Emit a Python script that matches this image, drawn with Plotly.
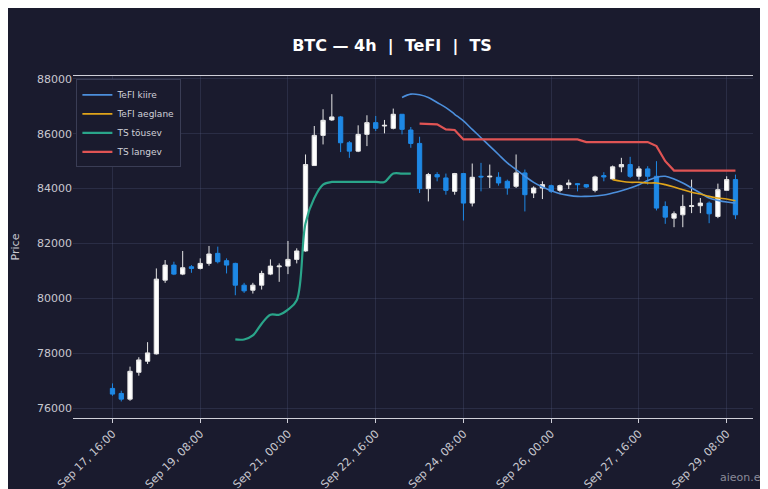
import pandas as pd
import plotly.graph_objects as go

# 4h candles starting Sep 17 16:00
times = pd.date_range("2025-09-17 16:00", periods=72, freq="4h")

opens = [76727, 76544, 76337, 77313, 77716, 77984, 80668, 81217, 80888, 81156,
         81095, 81278, 81644, 81376, 81278, 80485, 80302, 80485, 80888, 81156,
         81180, 81424, 81730, 84840, 85938, 86500, 86610, 85670, 85365, 85975,
         86402, 86280, 86195, 86707, 86134, 85646, 83999, 84511, 84389, 83901,
         84548, 83474, 84450, 84426, 84413, 84267, 84084, 84572, 83840, 84023,
         84108, 83938, 84145, 84182, 84145, 83938, 84474, 84353, 84792, 84877,
         84450, 84719, 84450, 83352, 82925, 83047, 83352, 83377, 83474, 82986,
         83938, 84328]
highs = [76910, 76642, 77520, 77862, 78411, 81095, 81400, 81339, 81730, 81217,
         81461, 81912, 81888, 81461, 81302, 80570, 80570, 81010, 81424, 81278,
         82095, 81827, 85243, 86280, 86890, 87439, 86646, 85731, 86304, 86670,
         86646, 86500, 86914, 86707, 86243, 85890, 84572, 84597, 84548, 84572,
         84572, 84914, 84938, 84877, 84597, 84328, 85243, 84694, 84084, 84267,
         84145, 84145, 84328, 84206, 84169, 84474, 84597, 84840, 85121, 85158,
         84816, 84816, 85000, 83535, 83169, 83779, 84328, 83657, 83535, 84182,
         84450, 84511]
lows = [76459, 76252, 76276, 77191, 77618, 77960, 80570, 80851, 80851, 80936,
        81058, 81193, 81278, 80912, 80119, 80204, 80180, 80326, 80851, 80607,
        80888, 81278, 81705, 84840, 85609, 86463, 85329, 85121, 85329, 85548,
        86097, 86012, 86158, 85975, 85487, 83840, 83535, 84267, 83779, 83779,
        82840, 83352, 83901, 84023, 84108, 83779, 84023, 83169, 83657, 83620,
        83840, 83865, 83987, 83901, 84023, 83865, 84267, 84328, 84597, 84389,
        84328, 84145, 83206, 82718, 82596, 82596, 83108, 83108, 82742, 82925,
        83938, 82889]
closes = [76520, 76337, 77350, 77764, 78020, 80705, 81217, 80888, 81120, 81095,
          81278, 81620, 81339, 81217, 80485, 80278, 80485, 80912, 81180, 81180,
          81424, 81730, 84877, 85938, 86487, 86610, 85670, 85365, 85975, 86402,
          86195, 86304, 86707, 86158, 85646, 83999, 84511, 84426, 83938, 84548,
          83474, 84413, 84426, 84450, 84206, 84023, 84572, 83779, 84023, 84145,
          83901, 84108, 84206, 84145, 84060, 84426, 84426, 84792, 84877, 84450,
          84719, 84450, 83291, 82962, 83084, 83352, 83377, 83474, 83084, 83962,
          84328, 83047]

# indicator lines (start index, values)
fast_start = 33
tefi_fast = [87317, 87439, 87415, 87317, 87134, 86951, 86707, 86463, 86158, 85853,
             85548, 85243, 84938, 84694, 84450, 84230, 84060, 83925, 83816, 83755,
             83718, 83718, 83730, 83767, 83840, 83925, 84023, 84145, 84292, 84414,
             84450, 84352, 84206, 84023, 83840, 83657, 83572, 83511, 83474]
slow_start = 57
tefi_slow = [84328, 84267, 84230, 84230, 84206, 84206, 84145, 84060, 83962, 83865,
             83804, 83718, 83657, 83620, 83559]
up_start = 14
ts_up = [78509, 78509, 78655, 79082, 79411, 79411, 79594, 79936, 82742, 83657,
         84145, 84243, 84243, 84243, 84243, 84243, 84243, 84243, 84548, 84548,
         84548]
down_start = 35
ts_down = [86365, 86365, 86341, 86158, 86134, 85792, 85792, 85792, 85792, 85792,
           85792, 85792, 85792, 85792, 85792, 85792, 85792, 85792, 85792, 85694,
           85694, 85694, 85694, 85694, 85694, 85694, 85694, 85548, 84999, 84657,
           84657, 84657, 84657, 84657, 84657, 84657, 84657]

fig = go.Figure()

fig.add_trace(go.Candlestick(
    x=times, open=opens, high=highs, low=lows, close=closes,
    increasing=dict(line=dict(color="#e6e6e6", width=1), fillcolor="#ffffff"),
    decreasing=dict(line=dict(color="#1e88e5", width=1), fillcolor="#1e88e5"),
    whiskerwidth=0, showlegend=False, name="BTC"))

fig.add_trace(go.Scatter(x=times[fast_start:fast_start + len(tefi_fast)], y=tefi_fast,
                         mode="lines", name="TeFI kiire",
                         line=dict(color="#4c8fdc", width=1.6, shape="spline")))
fig.add_trace(go.Scatter(x=times[slow_start:slow_start + len(tefi_slow)], y=tefi_slow,
                         mode="lines", name="TeFI aeglane",
                         line=dict(color="#e0a41a", width=1.6, shape="spline")))
fig.add_trace(go.Scatter(x=times[up_start:up_start + len(ts_up)], y=ts_up,
                         mode="lines", name="TS tõusev",
                         line=dict(color="#2aa58a", width=2.2, shape="spline")))
fig.add_trace(go.Scatter(x=times[down_start:down_start + len(ts_down)], y=ts_down,
                         mode="lines", name="TS langev",
                         line=dict(color="#e05454", width=2.2)))

grid = "rgba(90,100,140,0.25)"
fig.update_layout(
    width=768, height=489,
    paper_bgcolor="#1a1b2e", plot_bgcolor="#1a1b2e",
    font=dict(family="DejaVu Sans", color="#c8c8d0", size=11),
    title=dict(text="<b>BTC — 4h  |  TeFI  |  TS</b>", x=0.5, y=0.935,
               font=dict(size=16, color="#ffffff")),
    margin=dict(l=65, r=23, t=68, b=79),
    legend=dict(x=0.005, y=0.99, bgcolor="#1a1b2e", bordercolor="#3a3d55",
                borderwidth=1, font=dict(size=9, color="#d0d0d8")),
    xaxis=dict(rangeslider=dict(visible=False), showgrid=True, gridcolor=grid,
               tickformat="%b %d, %H:%M", tick0="2025-09-17 16:00",
               dtick=40 * 3600 * 1000, tickangle=-45, automargin=False,
               range=["2025-09-16 22:00", "2025-09-29 20:00"],
               showline=True, linecolor="#cfcfd8", mirror=True, ticks="outside",
               ticklen=4, tickcolor="#cfcfd8", zeroline=False),
    yaxis=dict(title=dict(text="Price", font=dict(size=11)), showgrid=True,
               gridcolor=grid, range=[75650, 88100], dtick=2000, automargin=False,
               tickformat="d", zeroline=False),
)

fig.add_annotation(text="aieon.ee", xref="paper", yref="paper", x=1.025, y=-0.2,
                   showarrow=False, font=dict(size=11, color="#8a8a99"),
                   xanchor="right")

fig.write_html("out.html")
